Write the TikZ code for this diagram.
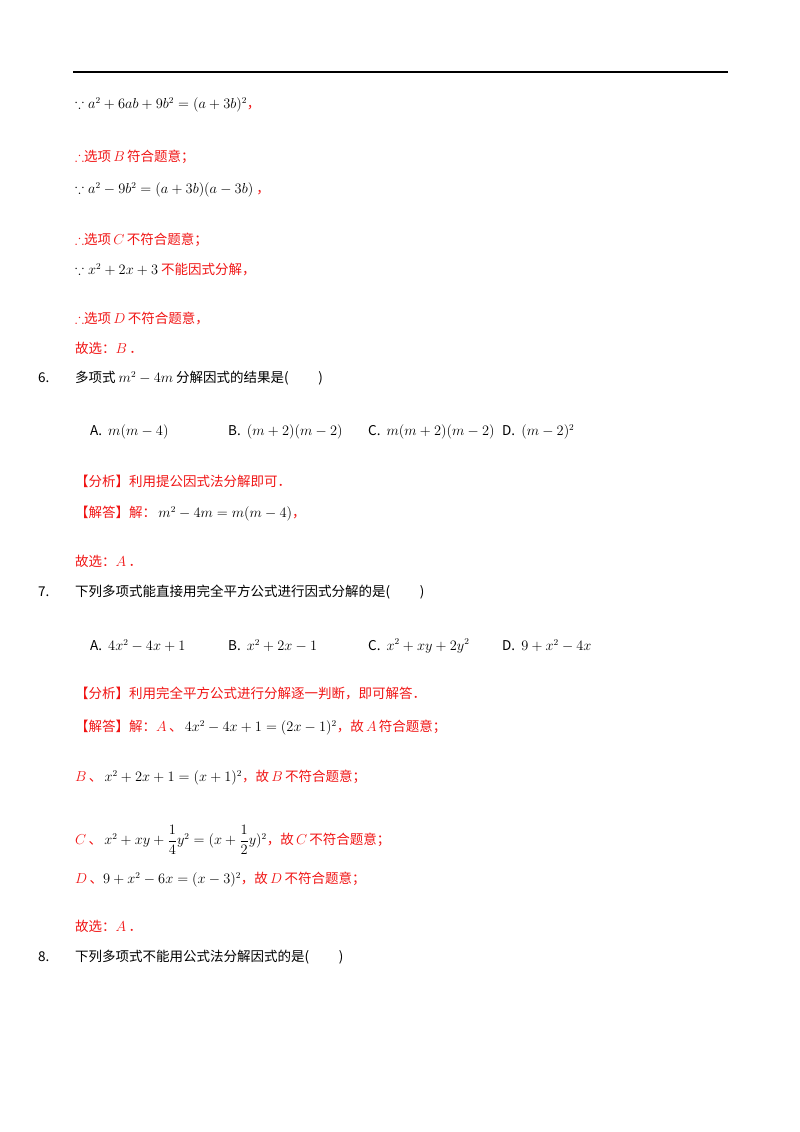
\documentclass[tikz,border=0pt]{standalone}
\usepackage{amsmath,amssymb}
\usepackage{fontspec}
\newfontfamily\cjk{Noto Sans CJK SC}
\definecolor{ans}{RGB}{240,20,20}
\begin{document}
\begin{tikzpicture}[x=1pt,y=-1pt,
  txt/.style={anchor=west,inner sep=0pt,font=\fontsize{13.5}{16}\selectfont\cjk},
  opt/.style={txt},
  red/.style={txt,text=ans}]
\useasboundingbox (0,0) rectangle (800,1132);
\coordinate (r1) at (73,72); \coordinate (r2) at (728,72);
\draw[line width=1.3pt] (r1) -- (r2);
\node[txt] (l1) at (75,105) {$\because a^2+6ab+9b^2=(a+3b)^2$\textcolor{ans}{，}};
\node[red] (l2) at (75,157) {$\therefore$选项\,$B$\,符合题意；};
\node[txt] (l3) at (75,190) {$\because a^2-9b^2=(a+3b)(a-3b)$\ \textcolor{ans}{，}};
\node[red] (l4) at (75,240) {$\therefore$选项\,$C$\,不符合题意；};
\node[txt] (l5) at (75,270) {$\because x^2+2x+3$\ \textcolor{ans}{不能因式分解，}};
\node[red] (l6) at (75,318) {$\therefore$选项\,$D$\,不符合题意，};
\node[red] (l7) at (75,348) {故选：$B$\,．};
\node[txt] (n6) at (38,378) {6.};
\node[txt] (q6) at (75,378) {多项式 $m^2-4m$ 分解因式的结果是(\hspace{2.2em})};
\node[opt] (a6) at (90,432) {A.\ \ $m(m-4)$};
\node[opt] (b6) at (228,432) {B.\ \ $(m+2)(m-2)$};
\node[opt] (c6) at (368,432) {C.\ \ $m(m+2)(m-2)$};
\node[opt] (d6) at (502,432) {D.\ \ $(m-2)^2$};
\node[red] (f6) at (75,481) {【分析】利用提公因式法分解即可．};
\node[red] (j6) at (75,514) {【解答】解：\,\textcolor{black}{$m^2-4m=m(m-4)$}，};
\node[red] (g6) at (75,561) {故选：$A$\,．};
\node[txt] (n7) at (38,592) {7.};
\node[txt] (q7) at (75,592) {下列多项式能直接用完全平方公式进行因式分解的是(\hspace{2.2em})};
\node[opt] (a7) at (90,646) {A.\ \ $4x^2-4x+1$};
\node[opt] (b7) at (228,646) {B.\ \ $x^2+2x-1$};
\node[opt] (c7) at (368,646) {C.\ \ $x^2+xy+2y^2$};
\node[opt] (d7) at (502,646) {D.\ \ $9+x^2-4x$};
\node[red] (f7) at (75,693) {【分析】利用完全平方公式进行分解逐一判断，即可解答．};
\node[red] (j7) at (75,728) {【解答】解：$A$\,、\,\textcolor{black}{$4x^2-4x+1=(2x-1)^2$}，故\,$A$\,符合题意；};
\node[red] (k7) at (75,778) {$B$\,、\,\textcolor{black}{$x^2+2x+1=(x+1)^2$}，故\,$B$\,不符合题意；};
\node[red] (m7) at (75,840) {$C$\,、\,\textcolor{black}{$x^2+xy+\dfrac14y^2=(x+\dfrac12y)^2$}，故\,$C$\,不符合题意；};
\node[red] (p7) at (75,880) {$D$\,、\textcolor{black}{$9+x^2-6x=(x-3)^2$}，故\,$D$\,不符合题意；};
\node[red] (g7) at (75,926) {故选：$A$\,．};
\node[txt] (n8) at (38,957) {8.};
\node[txt] (q8) at (75,957) {下列多项式不能用公式法分解因式的是(\hspace{2.2em})};
\end{tikzpicture}
\end{document}
